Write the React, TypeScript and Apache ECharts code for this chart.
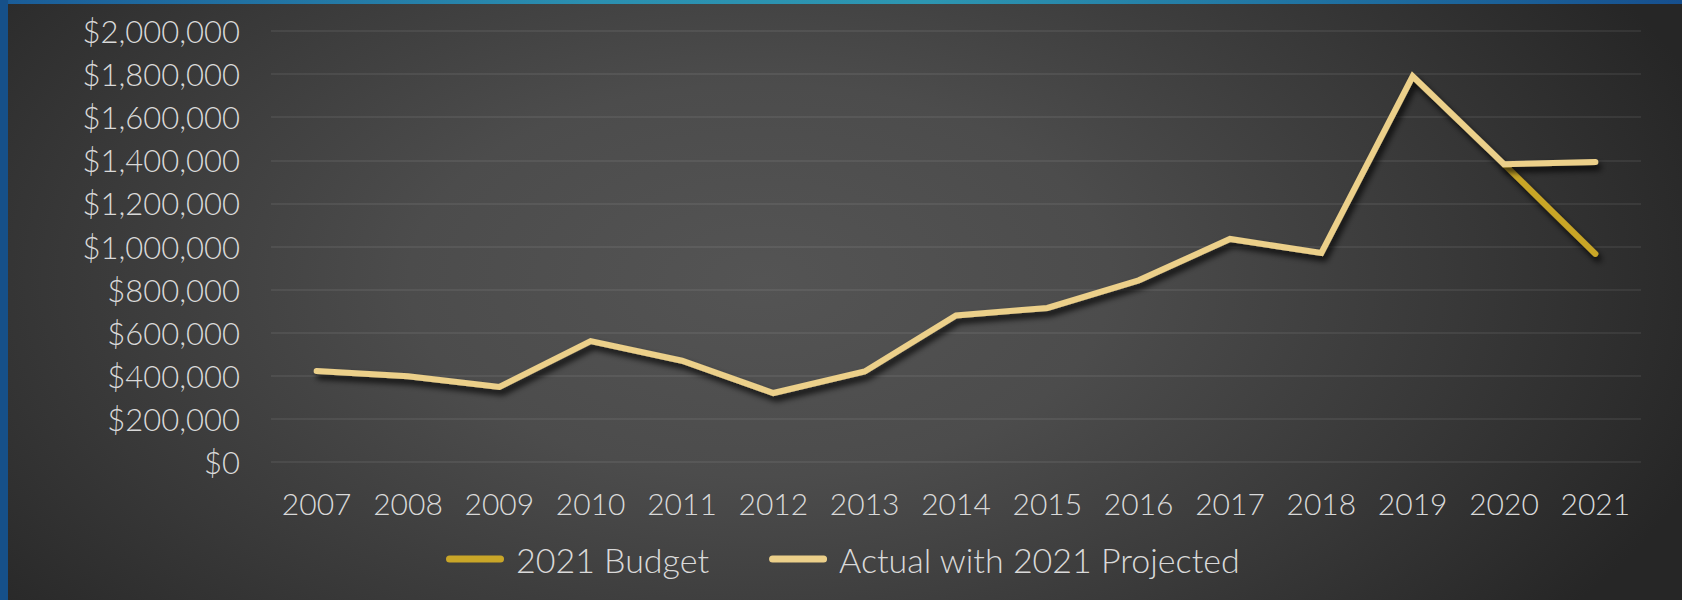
import React, { useEffect, useRef } from "react";
import * as echarts from "echarts";

const years = ["2007","2008","2009","2010","2011","2012","2013","2014","2015","2016","2017","2018","2019","2020","2021"];
const actualWithProjected = [422000, 398000, 348000, 561000, 470000, 320000, 420000, 680000, 715000, 843000, 1035000, 970000, 1790000, 1382000, 1392000];
const budget2021 = [null, null, null, null, null, null, null, null, null, null, null, null, null, 1382000, 966000];
const yTicks = { min: 0, max: 2000000, interval: 200000 };

const FONT = "Lato, 'Noto Sans', sans-serif";
const TEXT = "#d9d9d9";

const fmt = (v: number) => "$" + v.toLocaleString("en-US");
const ICON = "path://M3.5,0 H54.5 A3.5,3.5 0 0 1 54.5,7 H3.5 A3.5,3.5 0 0 1 3.5,0 Z";

export default function App() {
  const ref = useRef<HTMLDivElement>(null);
  useEffect(() => {
    document.body.style.margin = "0";
    const chart = echarts.init(ref.current!, null, { renderer: "svg" });
    const shadow = { shadowColor: "rgba(0,0,0,0.85)", shadowBlur: 6, shadowOffsetX: 3, shadowOffsetY: 5 };
    chart.setOption({
      animation: false,
      backgroundColor: "transparent",
      textStyle: { fontFamily: FONT, fontWeight: 300 },
      grid: { left: 271, right: 41, top: 31, bottom: 138, containLabel: false },
      legend: {
        left: 441,
        top: 537,
        itemWidth: 58,
        itemHeight: 7,
        itemGap: 60,
        textStyle: { color: TEXT, fontSize: 34, fontFamily: FONT, fontWeight: 300, padding: [0, 0, 0, 7] },
        data: [
          { name: "2021 Budget", icon: ICON, itemStyle: { color: "#C9A628" } },
          { name: "Actual with 2021 Projected", icon: ICON, itemStyle: { color: "#ECD08A" } },
        ],
      },
      xAxis: {
        type: "category",
        data: years,
        boundaryGap: true,
        axisLine: { show: false },
        axisTick: { show: false },
        axisLabel: { color: TEXT, fontSize: 30, fontFamily: FONT, fontWeight: 300, margin: 26 },
      },
      yAxis: {
        type: "value",
        min: yTicks.min,
        max: yTicks.max,
        interval: yTicks.interval,
        axisLine: { show: false },
        axisTick: { show: false },
        axisLabel: { color: TEXT, fontSize: 31, fontFamily: FONT, fontWeight: 300, margin: 31, formatter: (v: number) => fmt(v) },
        splitLine: { lineStyle: { color: "rgba(255,255,255,0.09)", width: 1.5 } },
      },
      series: [
        {
          name: "2021 Budget",
          type: "line",
          data: budget2021,
          symbol: "none",
          connectNulls: false,
          lineStyle: { color: "#C9A628", width: 6, cap: "round", join: "miter", ...shadow },
          itemStyle: { color: "#C9A628" },
          z: 2,
        },
        {
          name: "Actual with 2021 Projected",
          type: "line",
          data: actualWithProjected,
          symbol: "none",
          lineStyle: { color: "#ECD08A", width: 6, cap: "round", join: "miter", ...shadow },
          itemStyle: { color: "#ECD08A" },
          z: 3,
        },
      ],
    });
    return () => chart.dispose();
  }, []);

  return (
    <div
      style={{
        position: "fixed",
        left: 0,
        top: 0,
        width: 1682,
        height: 600,
        background: "#2a2a2a",
        overflow: "hidden",
      }}
    >
      <div
        style={{
          position: "absolute",
          left: 0,
          top: 0,
          width: 1682,
          height: 600,
          background: "radial-gradient(ellipse 1000px 560px at 760px 280px, #545454 0%, #4c4c4c 35%, #383838 70%, #262626 100%)",
        }}
      />
      <div
        style={{
          position: "absolute",
          left: 0,
          top: 0,
          width: 1682,
          height: 4,
          background: "linear-gradient(90deg, #1a5c98 0%, #2b8fb0 35%, #2d96b1 55%, #1f6fa0 80%, #164f8e 100%)",
        }}
      />
      <div style={{ position: "absolute", left: 0, top: 0, width: 8, height: 600, background: "#165089" }} />
      <div ref={ref} style={{ position: "absolute", left: 0, top: 0, width: 1682, height: 600 }} />
    </div>
  );
}
